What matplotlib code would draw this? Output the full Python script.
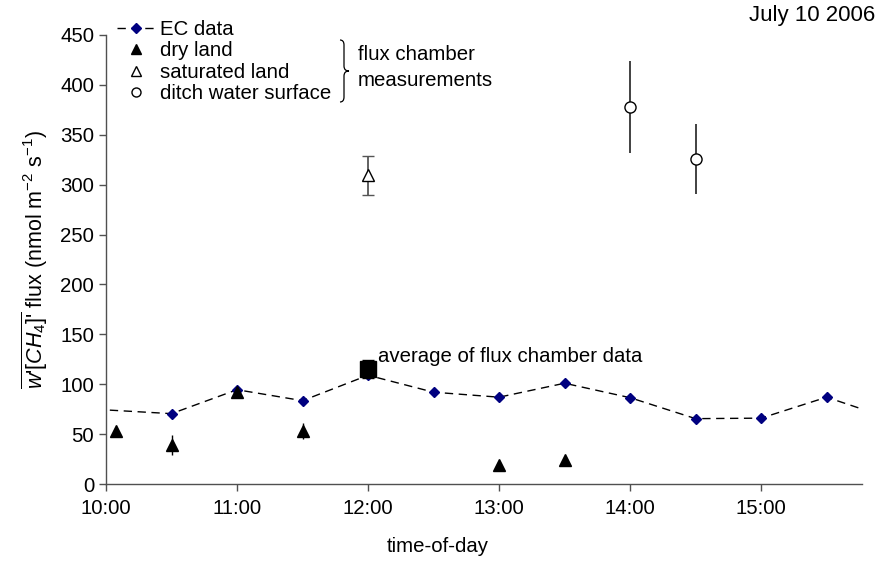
import matplotlib
matplotlib.use("Agg")
import matplotlib.pyplot as plt
from matplotlib.lines import Line2D
from matplotlib.path import Path
from matplotlib.patches import PathPatch

plt.rcParams['font.family'] = ['Liberation Sans', 'DejaVu Sans']
plt.rcParams['mathtext.fontset'] = 'custom'
plt.rcParams['mathtext.rm'] = 'Liberation Sans'
plt.rcParams['mathtext.it'] = 'Liberation Sans:italic'
FS = 14.7
plt.rcParams['font.size'] = FS

# Eddy-covariance half-hourly flux (time in decimal hours)
ec_time = [9.5, 10.5, 11.0, 11.5, 12.0, 12.5, 13.0, 13.5, 14.0, 14.5, 15.0, 15.5, 16.0]
ec_flux = [78, 70.5, 94.5, 83.5, 109, 92, 87, 101, 86.5, 65.5, 66, 87, 65]

# Flux chamber: dry land
dry_time = [10.075, 10.5, 11.0, 11.5, 13.0, 13.5]
dry_flux = [53, 39, 92, 53, 19, 24]
dry_err = [0, 10, 0, 8, 0, 0]

# Flux chamber: saturated land
sat_time = [12.0]
sat_flux = [309.5]
sat_err = [19.5]

# Flux chamber: ditch water surface
ditch_time = [14.0, 14.5]
ditch_flux = [377.5, 326]
ditch_err = [46, 35]

# Average of the chamber measurements
avg_time = [12.0]
avg_flux = [115]
avg_err = [9]

xtick_hours = [10, 11, 12, 13, 14, 15]
xtick_labels = ["10:00", "11:00", "12:00", "13:00", "14:00", "15:00"]
ytick_values = list(range(0, 451, 50))

W, H = 880, 563
fig = plt.figure(figsize=(W / 100, H / 100), dpi=100)
ax = fig.add_axes([106 / W, 1 - 484 / H, (862 - 106) / W, (484 - 35) / H])

spine_col = '#505050'
for s in ['top', 'right']:
    ax.spines[s].set_visible(False)
for s in ['left', 'bottom']:
    ax.spines[s].set_color(spine_col)
    ax.spines[s].set_linewidth(1.0)

ec_style = dict(linestyle=(0, (6, 4)), color='black', linewidth=1.0,
                marker='D', markersize=5, markerfacecolor='#000080',
                markeredgecolor='#000080')
ax.plot(ec_time, ec_flux, zorder=3, **ec_style)

ax.errorbar(dry_time, dry_flux, yerr=dry_err, fmt='^', color='black',
            markersize=9, elinewidth=1.0, capsize=0, zorder=4)
ax.errorbar(sat_time, sat_flux, yerr=sat_err, fmt='^', markerfacecolor='white',
            markeredgecolor='black', ecolor='#555555', markersize=8,
            markeredgewidth=1.0, elinewidth=1.3, capsize=4, zorder=4)
ax.errorbar(ditch_time, ditch_flux, yerr=ditch_err, fmt='o', markerfacecolor='white',
            markeredgecolor='black', ecolor='#333333', markersize=8,
            markeredgewidth=1.0, elinewidth=1.3, capsize=0, zorder=4)
ax.errorbar(avg_time, avg_flux, yerr=avg_err, fmt='s', color='black',
            markersize=11, elinewidth=1.0, capsize=4, zorder=5)

ax.set_xlim(10.0, 15.77)
ax.set_ylim(0, 450)
ax.set_xticks(xtick_hours)
ax.set_xticklabels(xtick_labels)
ax.set_yticks(ytick_values)
ax.tick_params(direction='out', length=5, width=1.0, color=spine_col, labelsize=FS)
ax.tick_params(axis='x', pad=6)

ax.set_xlabel('time-of-day', fontsize=FS)
ax.xaxis.set_label_coords((438 - 106) / 756, -(537 - 484) / 449)
ax.set_ylabel(r"$\overline{w\text{'}[CH_4]\text{'}}$ flux (nmol m$^{-2}$ s$^{-1}$)", fontsize=15.5)
ax.yaxis.set_label_coords(-(106 - 50) / 756, 0.5)

ax.annotate('average of flux chamber data', xy=(avg_time[0], avg_flux[0]),
            xytext=(7, 9.5), textcoords='offset points', fontsize=FS,
            va='center', ha='left')

handles = [
    Line2D([], [], **ec_style),
    Line2D([], [], linestyle='none', marker='^', markersize=7, color='black'),
    Line2D([], [], linestyle='none', marker='^', markersize=6.5,
           markerfacecolor='white', markeredgecolor='black'),
    Line2D([], [], linestyle='none', marker='o', markersize=6.5,
           markerfacecolor='white', markeredgecolor='black'),
]
labels = ['EC data', 'dry land', 'saturated land', 'ditch water surface']
leg = ax.legend(handles, labels, loc='upper left', bbox_to_anchor=(117 / W, 1 - 20 / H),
                bbox_transform=fig.transFigure, frameon=False, fontsize=FS,
                handlelength=1.85, handletextpad=0.25, labelspacing=0.12,
                borderpad=0, borderaxespad=0)

# curly brace grouping the chamber entries
def fp(x, y):
    return (x / W, 1 - y / H)

bx0, bx1, tip = 340, 344, 349
ytop, ymid, ybot = 40, 71, 102
verts = [fp(bx0, ytop), fp(bx1, ytop), fp(bx1, ytop + 5),
         fp(bx1, ymid - 5), fp(bx1, ymid), fp(tip, ymid),
         fp(bx1, ymid), fp(bx1, ymid + 5),
         fp(bx1, ybot - 5), fp(bx1, ybot), fp(bx0, ybot)]
codes = [Path.MOVETO, Path.CURVE3, Path.CURVE3,
         Path.LINETO, Path.CURVE3, Path.CURVE3,
         Path.CURVE3, Path.CURVE3,
         Path.LINETO, Path.CURVE3, Path.CURVE3]
brace = PathPatch(Path(verts, codes), transform=fig.transFigure, fill=False,
                  edgecolor='black', linewidth=0.9)
fig.patches.append(brace)

fig.text(358 / W, 1 - 54 / H, 'flux chamber', fontsize=FS, va='center', ha='left')
fig.text(358 / W, 1 - 80 / H, 'measurements', fontsize=FS, va='center', ha='left')
fig.text(875 / W, 1 - 15 / H, 'July 10 2006', fontsize=16, va='center', ha='right')

fig.savefig('out.png', dpi=100)
